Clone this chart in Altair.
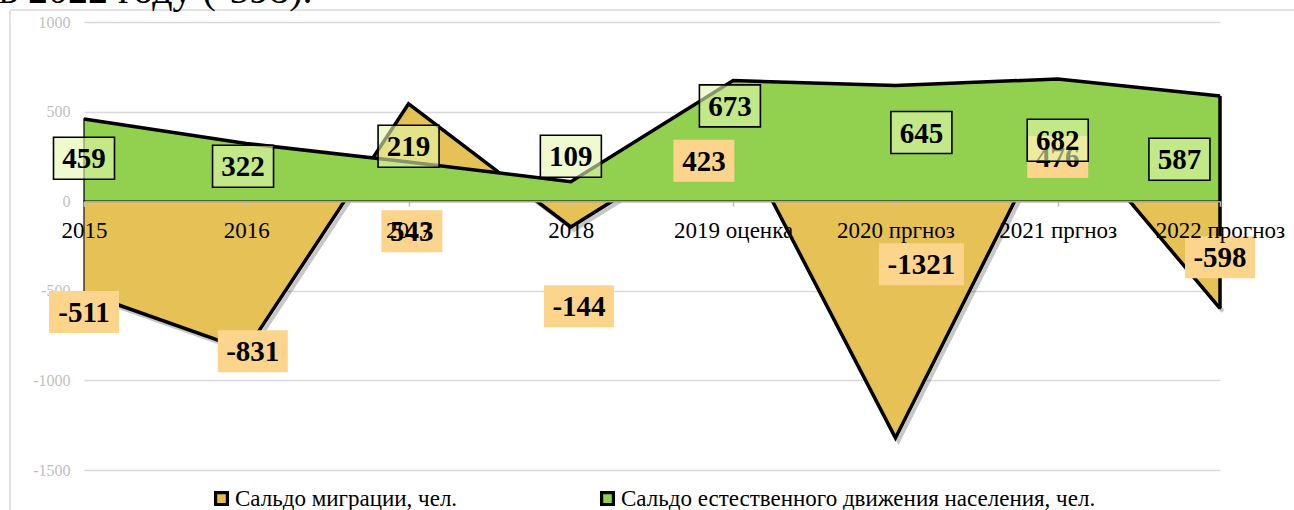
import json
import altair as alt
import pandas as pd

# ---------------- data ----------------
categories = ["2015", "2016", "2017", "2018", "2019 оценка",
              "2020 пргноз", "2021 пргноз", "2022 прогноз"]
migration = [-511, -831, 543, -144, 423, -1321, 476, -598]
natural = [459, 322, 219, 109, 673, 645, 682, 587]
mig_name = "Сальдо миграции, чел."
nat_name = "Сальдо естественного движения населения, чел."

# where the data labels sit (category index, value units)
mig_label_x = [0, 1.04, 2.02, 3.05, 3.82, 5.16, 6, 7]
mig_label_y = [-619, -837, -167, -586, 226, -352, 246, -313]
nat_label_x = [0, 0.98, 2, 3, 3.98, 5.16, 6, 6.75]
nat_label_y = [240, 195, 307, 251, 532, 383, 340, 234]
top_text = "в 2022 году (-598)."

idx = list(range(len(categories)))
mig_df = pd.DataFrame({"i": idx, "v": migration, "series": mig_name})
nat_df = pd.DataFrame({"i": idx, "v": natural, "series": nat_name})
mig_lab = pd.DataFrame({"lx": mig_label_x, "ly": mig_label_y,
                        "t": [str(v) for v in migration]})
mig_lab["n"] = mig_lab["t"].str.len()
nat_lab = pd.DataFrame({"lx": nat_label_x, "ly": nat_label_y,
                        "t": [str(v) for v in natural]})
nat_lab["n"] = nat_lab["t"].str.len()
one = pd.DataFrame({"k": [0]})

FONT = "Liberation Serif"
GOLD = "#e5be4a"
GREEN = "#92d050"
GOLD_BOX = "#fdd48c"
GREEN_BOX = "#e4f8ad"
W, H = 1136, 448

xscale = alt.Scale(domain=[0, 7], nice=False, zero=False)
yscale = alt.Scale(domain=[-1500, 1000], nice=False)
color_scale = alt.Scale(domain=[mig_name, nat_name], range=[GOLD, GREEN])

x_axis = alt.Axis(values=idx, labelExpr=json.dumps(categories, ensure_ascii=False) + "[datum.value]",
                  title=None, offset=-268.8, zindex=1, grid=False,
                  domainColor="#a6a6a6", domainWidth=1.5,
                  tickColor="#bfbfbf", tickSize=5, tickWidth=1.5,
                  labelFont=FONT, labelFontSize=23, labelColor="black",
                  labelPadding=13, labelFlush=False, labelOverlap=False)
y_axis = alt.Axis(values=[-1500, -1000, -500, 0, 500, 1000], title=None,
                  labelExpr="datum.value + ''",
                  grid=True, gridColor="#d9d9d9", gridWidth=1.4,
                  domain=False, ticks=False, labelFont=FONT, labelFontSize=16,
                  labelColor="#bfbfbf", labelPadding=14)

legend = alt.Legend(title=None, orient="none", legendX=126, legendY=465,
                    direction="horizontal", symbolType="square", symbolSize=140,
                    symbolStrokeColor="black", symbolStrokeWidth=3.2,
                    symbolOpacity=1, labelFont=FONT, labelFontSize=23,
                    labelColor="black", labelLimit=0, labelOffset=2,
                    columnPadding=137, padding=0)

X = alt.X("i:Q", scale=xscale, axis=x_axis)
Y = alt.Y("v:Q", scale=yscale, axis=y_axis, stack=None)

# gold (migration)
mig_shadow = alt.Chart(mig_df).mark_line(color="black", opacity=0.22, strokeWidth=4,
                                         xOffset=3, yOffset=3).encode(x=X, y=Y)
mig_area = alt.Chart(mig_df).mark_area(opacity=0.93, stroke="black", strokeWidth=1.2).encode(
    x=X, y=Y, color=alt.Color("series:N", scale=color_scale, legend=legend))
mig_line = alt.Chart(mig_df).mark_line(color="black", strokeWidth=3.5).encode(x=X, y=Y)
mig_edge = alt.Chart(mig_df).transform_filter("datum.i == 7").transform_calculate(z="0").mark_rule(
    color="black", strokeWidth=3.5).encode(x=X, y=Y, y2="z:Q")

# green (natural)
nat_area = alt.Chart(nat_df).mark_area(opacity=1, stroke="black", strokeWidth=1.2).encode(
    x=X, y=Y, color=alt.Color("series:N", scale=color_scale, legend=legend))
nat_line = alt.Chart(nat_df).mark_line(color="black", strokeWidth=3.5).encode(x=X, y=Y)
nat_edge = alt.Chart(nat_df).transform_filter("datum.i == 7").transform_calculate(z="0").mark_rule(
    color="black", strokeWidth=3.5).encode(x=X, y=Y, y2="z:Q")

box_w = {3: 61, 4: 70, 5: 85}


def boxes(df, fill, stroke, opacity):
    layers = []
    for n in sorted(df["n"].unique()):
        w = box_w[int(n)]
        kw = dict(fill=fill, opacity=opacity, xOffset=-w / 2, x2Offset=w / 2,
                  yOffset=-21, y2Offset=21)
        if stroke:
            kw.update(stroke="black", strokeWidth=1.6, strokeOpacity=1, fillOpacity=0.6)
        layers.append(alt.Chart(df).transform_filter(f"datum.n == {int(n)}").mark_rect(**kw).encode(
            x=alt.X("lx:Q", scale=xscale), x2="lx:Q",
            y=alt.Y("ly:Q", scale=yscale), y2="ly:Q"))
    return layers


def texts(df):
    return alt.Chart(df).mark_text(font=FONT, fontSize=29, fontWeight="bold", color="black",
                                   align="center", baseline="middle", dy=1).encode(
        x=alt.X("lx:Q", scale=xscale), y=alt.Y("ly:Q", scale=yscale), text="t:N")


frame_top = alt.Chart(one).mark_rule(color="#d9d9d9", strokeWidth=1.5).encode(
    x=alt.value(-74), x2=alt.value(1210), y=alt.value(-12))
frame_left = alt.Chart(one).mark_rule(color="#d9d9d9", strokeWidth=1.5).encode(
    x=alt.value(-74), y=alt.value(-12), y2=alt.value(488))
cut_text = alt.Chart(one).mark_text(text=top_text, font=FONT, fontSize=40, color="black",
                                    align="left", baseline="alphabetic").encode(
    x=alt.value(-85), y=alt.value(-19))

layers = [frame_top, frame_left, cut_text,
          mig_shadow, mig_area, mig_line, mig_edge,
          nat_area, nat_line, nat_edge]
layers += boxes(mig_lab, GOLD_BOX, False, 1) + [texts(mig_lab)]
layers += boxes(nat_lab, GREEN_BOX, True, 1) + [texts(nat_lab)]

chart = alt.layer(*layers).properties(
    width=W, height=H,
    autosize=alt.AutoSizeParams(type="none"),
    padding={"left": 84, "top": 22, "right": 74, "bottom": 40},
    background="white",
).configure(font=FONT).configure_view(stroke=None).configure_legend(
    labelFont=FONT, labelFontSize=23, labelColor="black", labelLimit=0,
    symbolType="square", symbolSize=140, symbolStrokeColor="black",
    symbolStrokeWidth=3.2, columnPadding=137,
)

chart.save("out.html", embed_options={"renderer": "svg", "actions": False})
